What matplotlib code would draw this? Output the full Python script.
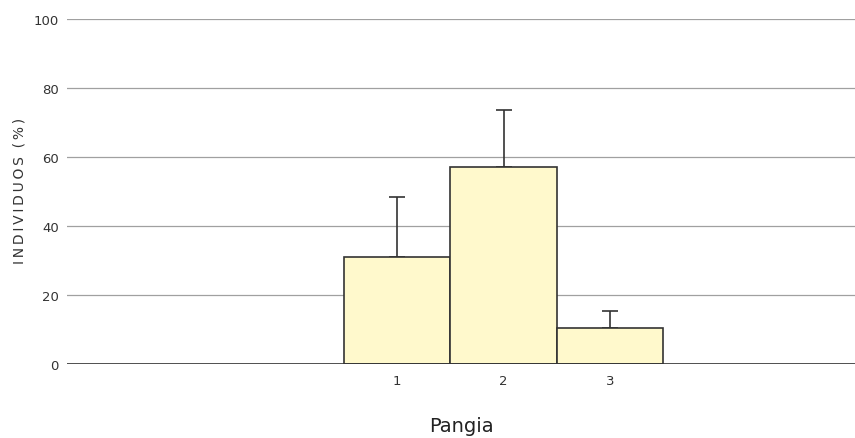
import matplotlib
matplotlib.use("Agg")
import matplotlib.pyplot as plt

categories = ["1", "2", "3"]
values = [31.0, 57.2, 10.4]
errors_up = [17.4, 16.4, 5.0]
yticks = [0, 20, 40, 60, 80, 100]

plt.rcParams['font.family'] = ['DejaVu Sans']

fig = plt.figure(figsize=(8.55, 4.39), dpi=100)
ax = fig.add_axes([67 / 855, 74 / 439, 788 / 855, 345 / 439])

x = [1, 2, 3]
ax.bar(x, values, width=1.0, color="#fff9cc", edgecolor="#333333", linewidth=1.2, zorder=3)
ax.errorbar(x, values, yerr=[[0, 0, 0], errors_up], fmt="none", ecolor="#333333",
            elinewidth=1.2, capsize=5.5, capthick=1.2, zorder=2)

ax.set_xlim(-2.1, 5.3)
ax.set_ylim(0, 100)
ax.set_yticks(yticks)
ax.set_xticks(x)
ax.set_xticklabels(categories)
ax.yaxis.grid(True, color="#a0a0a0", linewidth=0.9, zorder=0)
ax.set_axisbelow(True)
ax.axhline(0, color="#333333", linewidth=1.2, zorder=4)
for s in ax.spines.values():
    s.set_visible(False)
ax.tick_params(axis="both", length=0, labelsize=9.5, colors="#333333")
ax.tick_params(axis="y", pad=6)
ax.tick_params(axis="x", pad=7)

# letter-spaced y label, placed by hand
ylab = "\u2009".join("INDIVIDUOS") + "  (\u2009%\u2009)"
fig.text(20 / 855, 248 / 439, ylab, rotation=90, ha="center", va="center",
         fontsize=10, color="#333333")
ax.set_xlabel("Pangia", fontsize=14, color="#222222", labelpad=21)

fig.savefig("out.png", dpi=100)
